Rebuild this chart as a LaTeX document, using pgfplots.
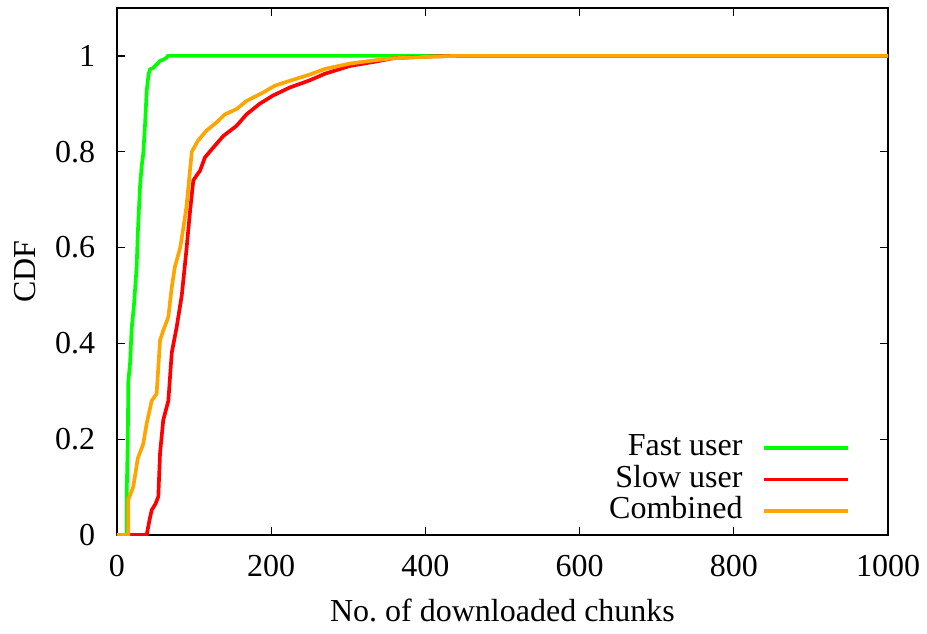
\documentclass[border=0pt]{standalone}
\usepackage{pgfplots}
\pgfplotsset{compat=1.18}
\usepackage{fontspec}
\setmainfont{Liberation Serif}
\definecolor{cgreen}{RGB}{0,255,0}
\definecolor{cred}{RGB}{255,0,0}
\definecolor{corange}{RGB}{255,165,0}
\begin{document}
\begin{tikzpicture}
\begin{axis}[
  scale only axis,
  width=231.3pt, height=158.1pt,
  xmin=0, xmax=1000, ymin=0, ymax=1.1,
  xtick={0,200,400,600,800,1000},
  ytick={0,0.2,0.4,0.6,0.8,1},
  yticklabels={0,0.2,0.4,0.6,0.8,1},
  xticklabels={0,200,400,600,800,1000},
  tick align=inside,
  major tick length=2.4pt,
  minor tick num=0,
  axis line style={line width=0.5pt},
  every tick/.style={black, line width=0.4pt},
  /pgf/number format/assume math mode=true,
  tick label style={font=\fontsize{9.6}{11}\selectfont},
  xticklabel style={yshift=-2.5pt},
  yticklabel style={xshift=-3pt},
  xlabel={No.\ of downloaded chunks},
  ylabel={CDF},
  label style={font=\fontsize{9.6}{11}\selectfont},
  xlabel style={at={(axis description cs:0.5,-0.143)}, anchor=center},
  ylabel style={at={(axis description cs:-0.1187,0.5)}, anchor=center},
  legend style={draw=none, fill=none, at={(0.951,0.017)}, anchor=south east,
    inner sep=0pt, font=\fontsize{9.6}{11}\selectfont, row sep=1pt,
    nodes={inner sep=0pt, text height=6.5pt, text depth=2pt},
    /tikz/every odd column/.append style={column sep=6pt}},
  legend cell align=right,
  legend plot pos=right,
  legend image code/.code={\draw[#1] (0pt,0pt) -- (25pt,0pt);},
]
\addplot[cgreen, line width=1.1pt] coordinates {
(0,0)(12.5,0)(12.5,0.08)(14,0.2)(14.7,0.32)(17,0.36)(19,0.43)(22,0.48)(25.5,0.56)(27,0.63)(29.8,0.726)(32,0.77)(34,0.795)(36.5,0.86)(38.5,0.927)(41,0.962)(42.8,0.972)(47,0.975)(50,0.98)(53,0.985)(56,0.99)(60,0.992)(64,0.996)(66,1)(1000,1)};
\addlegendentry{Fast user}
\addplot[cred, line width=1.1pt] coordinates {
(0,0)(38.5,0)(42,0.03)(45,0.052)(50,0.065)(53.6,0.08)(55.8,0.17)(60,0.24)(66.6,0.28)(71,0.38)(77.4,0.434)(84,0.50)(90,0.594)(95,0.68)(97,0.71)(99,0.74)(103,0.75)(107.6,0.76)(114,0.788)(125,0.809)(138,0.833)(155,0.854)(168,0.878)(185,0.9)(202,0.917)(224,0.934)(250,0.949)(270,0.963)(302,0.979)(335,0.988)(358,0.995)(380,0.997)(410,0.999)(440,1)(1000,1)};
\addlegendentry{Slow user}
\addplot[corange, line width=1.1pt] coordinates {
(0,0)(14.5,0)(14.5,0.073)(21,0.1)(27,0.16)(34,0.19)(38.5,0.233)(45,0.28)(51.4,0.295)(55.8,0.406)(60,0.427)(66.6,0.455)(71,0.517)(75,0.559)(82,0.60)(86,0.64)(90,0.684)(94,0.75)(97,0.80)(105,0.823)(116,0.844)(129,0.861)(140,0.878)(155,0.889)(168,0.906)(190,0.924)(205,0.938)(224,0.948)(250,0.961)(270,0.973)(302,0.984)(335,0.991)(358,0.995)(400,0.998)(440,1)(1000,1)};
\addlegendentry{Combined}
\end{axis}
\pgfresetboundingbox
\path ([xshift=-35.1pt,yshift=-29.4pt]current axis.south west) rectangle ([xshift=11.7pt,yshift=2.4pt]current axis.north east);
\end{tikzpicture}
\end{document}
